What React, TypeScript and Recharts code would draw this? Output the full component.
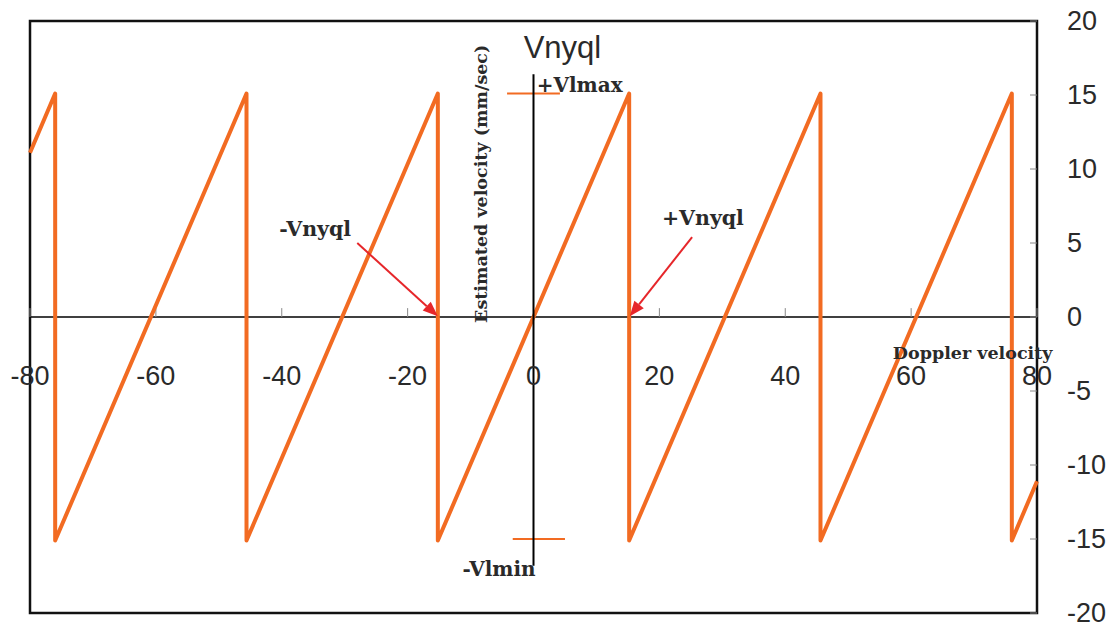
import React from "react";
import {
  ComposedChart,
  Line,
  XAxis,
  YAxis,
  ReferenceLine,
  ReferenceDot,
  ReferenceArea,
} from "recharts";

// sawtooth: estimated velocity vs doppler velocity (aliasing at +/- Vnyql)
const dopplerVel = [-80, -76, -76, -45.6, -45.6, -15.2, -15.2, 15.2, 15.2, 45.6, 45.6, 76, 76, 80];
const estimatedVel = [11.1, 15.1, -15.1, 15.1, -15.1, 15.1, -15.1, 15.1, -15.1, 15.1, -15.1, 15.1, -15.1, -11.1];

const xTicks = [-80, -60, -40, -20, 0, 20, 40, 60, 80];
const yTicks = [-20, -15, -10, -5, 0, 5, 10, 15, 20];

const vlmax = 15.1;
const vlmin = -15;

const data = dopplerVel.map((x, i) => ({ x, y: estimatedVel[i] }));

const ORANGE = "#f26b22";
const RED = "#e6262a";
const INK = "#2a2a2a";
const SANS = "'Liberation Sans', Arial, sans-serif";
const SERIF = "'DejaVu Serif', serif";

const Arrow = (p: any) => {
  const { x1, y1, x2, y2 } = p;
  const a = Math.atan2(y2 - y1, x2 - x1);
  const L = 15;
  const W = 6;
  const bx = x2 - L * Math.cos(a);
  const by = y2 - L * Math.sin(a);
  const px = -Math.sin(a) * W;
  const py = Math.cos(a) * W;
  return (
    <g>
      <line x1={x1} y1={y1} x2={bx} y2={by} stroke={RED} strokeWidth={2} />
      <polygon points={`${x2},${y2} ${bx + px},${by + py} ${bx - px},${by - py}`} fill={RED} />
    </g>
  );
};

// text notes placed in data coordinates
const notes = [
  { text: "Vnyql", x: 4.6, y: 18.2, anchor: "middle", font: SANS, size: 31, weight: 400, rotate: 0 },
  { text: "+Vlmax", x: 0.5, y: 15.7, anchor: "start", font: SERIF, size: 20, weight: 700, rotate: 0 },
  { text: "-Vlmin", x: -11.3, y: -17.0, anchor: "start", font: SERIF, size: 20, weight: 700, rotate: 0 },
  { text: "-Vnyql", x: -40.4, y: 5.95, anchor: "start", font: SERIF, size: 20.5, weight: 700, rotate: 0 },
  { text: "+Vnyql", x: 20.4, y: 6.7, anchor: "start", font: SERIF, size: 20.5, weight: 700, rotate: 0 },
  { text: "Doppler velocity", x: 57.1, y: -2.4, anchor: "start", font: SERIF, size: 17.5, weight: 700, rotate: 0 },
  { text: "Estimated velocity (mm/sec)", x: -8.3, y: 9.0, anchor: "middle", font: SERIF, size: 17.5, weight: 700, rotate: -90 },
];

const YTick = (p: any) => {
  const { x, y, payload } = p;
  const edge = x - 30;
  return (
    <g>
      <line x1={edge - 7} y1={y} x2={edge} y2={y} stroke="#888" strokeWidth={1} />
      <text x={x} y={y} dy="0.32em" textAnchor="start" fontSize={27} fontFamily={SANS} fill={INK}>
        {payload.value}
      </text>
    </g>
  );
};

export default function App() {
  return (
    <div style={{ position: "absolute", left: 0, top: 0, width: 1118, height: 625, background: "#fff" }}>
      <ComposedChart width={1118} height={625} data={data} margin={{ top: 21, right: 11, bottom: 12, left: 30 }}>
        <XAxis dataKey="x" type="number" domain={[-80, 80]} ticks={xTicks} hide />
        <YAxis
          orientation="right"
          type="number"
          domain={[-20, 20]}
          ticks={yTicks}
          width={70}
          axisLine={false}
          tickLine={false}
          tickSize={0}
          tickMargin={30}
          tick={<YTick />}
          interval={0}
        />
        <ReferenceArea x1={-80} x2={80} y1={-20} y2={20} fill="none" stroke="#111" strokeWidth={2.5} />
        <ReferenceLine y={0} stroke="#000" strokeWidth={1.4} />
        {xTicks.map((v) => (
          <ReferenceLine key={"xt" + v} segment={[{ x: v, y: 0 }, { x: v, y: 0.6 }]} stroke="#888" strokeWidth={1} />
        ))}
        {xTicks.map((v) => (
          <ReferenceDot
            key={"xl" + v}
            x={v}
            y={0}
            r={0}
            fill="none"
            stroke="none"
            label={{ value: String(v), position: "bottom", offset: 49, fontSize: 27, fontFamily: SANS, fill: INK }}
          />
        ))}
        <Line
          type="linear"
          dataKey="y"
          stroke={ORANGE}
          strokeWidth={4}
          strokeLinejoin="round"
          dot={false}
          isAnimationActive={false}
        />
        <ReferenceLine segment={[{ x: -4.2, y: vlmax }, { x: 4.2, y: vlmax }]} stroke={ORANGE} strokeWidth={2} />
        <ReferenceLine segment={[{ x: -3.3, y: vlmin }, { x: 5, y: vlmin }]} stroke={ORANGE} strokeWidth={2} />
        <ReferenceLine segment={[{ x: 0, y: -16.8 }, { x: 0, y: 16.4 }]} stroke="#000" strokeWidth={2} />
        <ReferenceLine segment={[{ x: -28, y: 5.0 }, { x: -15.2, y: 0.05 }]} shape={Arrow} />
        <ReferenceLine segment={[{ x: 25.2, y: 5.4 }, { x: 15.3, y: 0.05 }]} shape={Arrow} />
        {notes.map((n) => (
          <ReferenceDot
            key={n.text}
            x={n.x}
            y={n.y}
            r={0}
            shape={(p: any) => (
              <text
                x={p.cx}
                y={p.cy}
                dy="0.35em"
                textAnchor={n.anchor}
                fontFamily={n.font}
                fontSize={n.size}
                fontWeight={n.weight}
                fill={INK}
                transform={n.rotate ? `rotate(${n.rotate} ${p.cx} ${p.cy})` : undefined}
              >
                {n.text}
              </text>
            )}
          />
        ))}
      </ComposedChart>
    </div>
  );
}
